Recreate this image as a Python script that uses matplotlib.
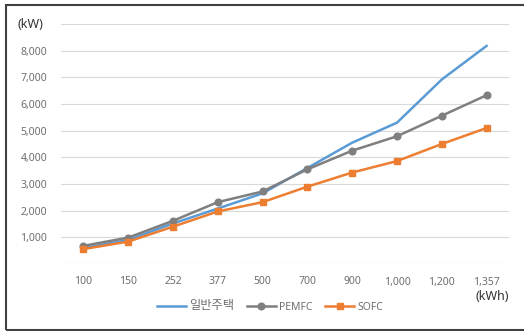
import matplotlib.pyplot as plt
from matplotlib.patches import Rectangle

plt.rcParams['font.family'] = ['Noto Sans', 'Noto Sans CJK KR', 'DejaVu Sans']

categorias = ["100", "150", "252", "377", "500", "700", "900", "1,000", "1,200", "1,357"]
casa = [600, 900, 1520, 2080, 2650, 3600, 4550, 5300, 6920, 8180]
pemfc = [680, 990, 1620, 2320, 2720, 3550, 4250, 4790, 5560, 6330]
sofc = [560, 840, 1400, 1970, 2320, 2900, 3430, 3860, 4500, 5100]
rotulos_y = ["", "1,000", "2,000", "3,000", "4,000", "5,000", "6,000", "7,000", "8,000"]

AZUL = "#5B9BD5"
CINZA = "#7F7F7F"
LARANJA = "#ED7D31"
TEXTO = "#6E6E6E"

fig = plt.figure(figsize=(5.24, 3.31), dpi=100)
ax = fig.add_axes([61 / 524, 1 - 264 / 331, 448 / 524, 240 / 331])

x = list(range(len(categorias)))
ax.plot(x, casa, color=AZUL, lw=1.8, label="일반주택", zorder=3)
ax.plot(x, pemfc, color=CINZA, lw=1.8, marker="o", ms=4.8, label="PEMFC", zorder=4)
ax.plot(x, sofc, color=LARANJA, lw=1.8, marker="s", ms=4.5, label="SOFC", zorder=5)

ax.set_xlim(-0.5, len(categorias) - 0.5)
ax.set_ylim(0, 9000)
ax.set_yticks(range(0, 9000, 1000))
ax.set_yticklabels(rotulos_y)
ax.set_xticks(x)
ax.set_xticklabels(categorias)
ax.tick_params(length=0, labelsize=7.5, colors=TEXTO, pad=10)
ax.tick_params(axis="x", pad=9)
for s in ax.spines.values():
    s.set_visible(False)
ax.grid(axis="y", color="#D9D9D9", lw=0.8)
ax.axhline(9000, color="#D9D9D9", lw=0.8)
ax.set_axisbelow(True)

fig.text(18 / 524, 1 - 24 / 331, "(kW)", fontsize=9, color="#333333", va="center")
fig.text(476 / 524, 1 - 297 / 331, "(kWh)", fontsize=9, color="#333333", va="center")

leg = fig.legend(loc="center", bbox_to_anchor=(270 / 524, 1 - 306 / 331), ncol=3,
                 frameon=False, fontsize=7.5, labelcolor=TEXTO, handlelength=2.8,
                 columnspacing=1.2, handletextpad=0.3)
leg.get_texts()[0].set_fontsize(8.8)

fig.patches.append(Rectangle((6 / 524, 0.002), 1.2, 1 - 5 / 331 - 0.002,
                             transform=fig.transFigure, fill=False,
                             edgecolor="#404040", lw=1.5))

fig.savefig("out.png", dpi=100)
